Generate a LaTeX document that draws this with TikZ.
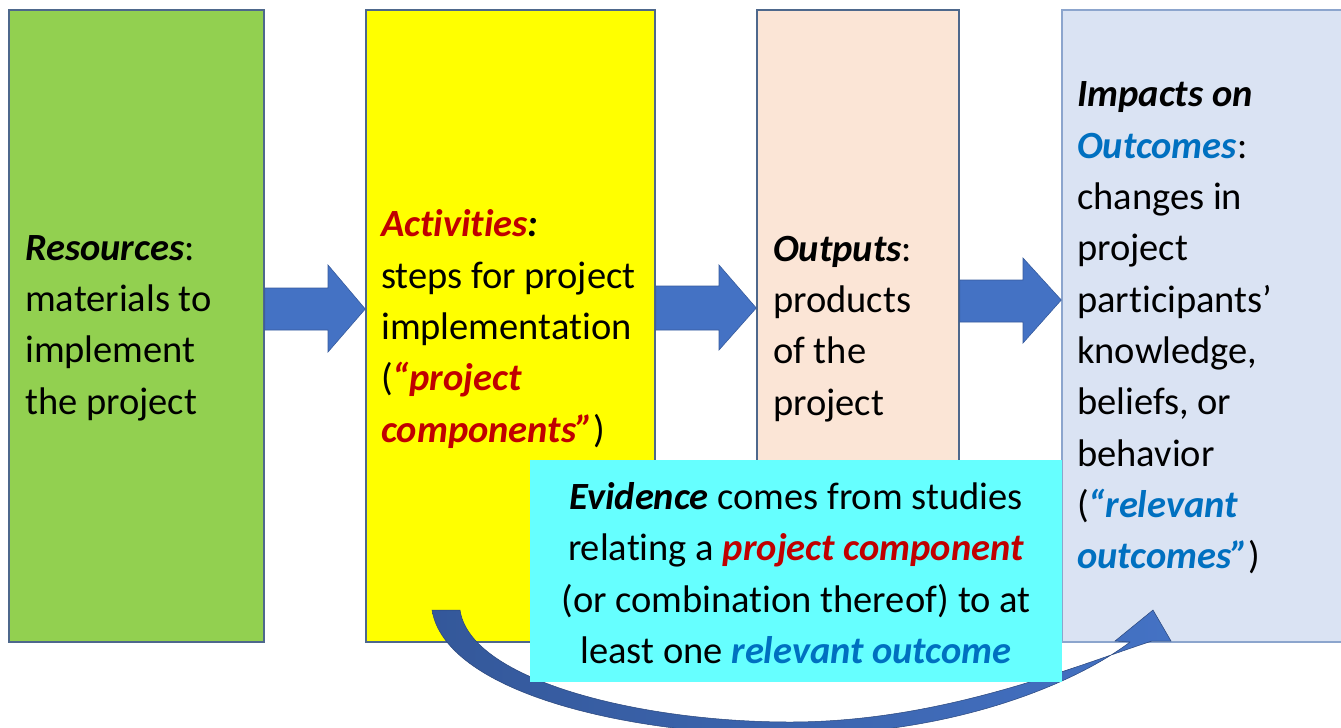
\documentclass[tikz,border=0pt]{standalone}
\usepackage{fontspec}
\setmainfont{Carlito}[Ligatures={NoCommon}]
\usetikzlibrary{calc}
\definecolor{grn}{HTML}{92D050}
\definecolor{yel}{HTML}{FFFF00}
\definecolor{peach}{HTML}{FBE5D6}
\definecolor{lblue}{HTML}{DAE3F3}
\definecolor{cyanbox}{HTML}{66FFFF}
\definecolor{arrblue}{HTML}{4472C4}
\definecolor{arrdark}{HTML}{34589A}
\definecolor{bord}{RGB}{78,104,140}
\definecolor{bordlight}{RGB}{140,165,205}
\definecolor{txtred}{HTML}{C00000}
\definecolor{txtblue}{HTML}{0070C0}
\newcommand{\bi}[1]{\textbf{\textit{#1}}}
\newcommand{\rbi}[1]{\textcolor{txtred}{\textbf{\textit{#1}}}}
\newcommand{\bbi}[1]{\textcolor{txtblue}{\textbf{\textit{#1}}}}
\begin{document}
\begin{tikzpicture}[x=1pt,y=-1pt,
  box/.style={draw=bord, line width=1.5pt, inner sep=0pt, minimum height=632pt},
  txt/.style={anchor=west, align=left, inner sep=0pt, font=\fontsize{38.5}{51.3}\selectfont},
  ctxt/.style={align=center, inner sep=0pt, font=\fontsize{38.5}{51.3}\selectfont},
  blockarrow/.style={fill=arrblue, draw=arrblue!80!black, line width=0.6pt}]
\clip (0,0) rectangle (1341,728);
\fill[white] (0,0) rectangle (1341,728);
% boxes
\node[box, fill=grn, minimum width=255pt] (res) at (136.5,326) {};
\node[box, fill=yel, minimum width=289pt] (act) at (510.5,326) {};
\node[box, fill=peach, minimum width=202pt] (out) at (858,326) {};
\node[box, fill=lblue, draw=bordlight, minimum width=290pt] (imp) at (1207,326) {};
% texts
\node[txt] (rest) at (25,328) {\bi{Resources}:\\materials to\\implement\\the project};
\node[txt] (actt) at (381,329) {\rbi{Activities}\bi{:}\\steps for project\\implementation\\(\rbi{“project}\\\rbi{components”})};
\node[txt] (outt) at (773,329) {\bi{Outputs}:\\products\\of the\\project};
\node[txt] (impt) at (1077,328) {\bi{Impacts on}\\\bbi{Outcomes}:\\changes in\\project\\participants’\\knowledge,\\beliefs, or\\behavior\\(\bbi{“relevant}\\\bbi{outcomes”})};
% block arrows
\path[blockarrow] (res.east |- 0,288) -- (328,288) -- (328,265) -- (act.west |- 0,309) -- (328,352) -- (328,330) -- (res.east |- 0,330) -- cycle;
\path[blockarrow] (act.east |- 0,286) -- (719,286) -- (719,265) -- (out.west |- 0,308) -- (719,350) -- (719,330) -- (act.east |- 0,330) -- cycle;
\path[blockarrow] (out.east |- 0,280) -- (1023,280) -- (1023,258) -- (imp.west |- 0,300) -- (1023,343) -- (1023,322) -- (out.east |- 0,322) -- cycle;
% curved arrow
\coordinate (cs1) at (432,610);
\coordinate (cs2) at (460,610);
\coordinate (ctip) at (1153,610);
\shade[left color=arrdark, right color=arrblue, draw=arrdark!80!black, line width=0.5pt]
  (cs1) .. controls (445,690) and (620,735) .. (790,735)
  .. controls (960,735) and (1080,680) .. (1130,642)
  -- (1115,641) -- (ctip) -- (1171,641) -- (1152,641)
  .. controls (1070,668) and (940,722) .. (790,722)
  .. controls (640,722) and (470,680) .. (cs2) -- cycle;
% evidence box
\node[fill=cyanbox, inner sep=0pt, minimum width=532pt, minimum height=222pt] (ev) at (796,571) {};
\node[ctxt] (evt) at (796,573) {\bi{Evidence} comes from studies\\relating a \rbi{project component}\\(or combination thereof) to at\\least one \bbi{relevant outcome}};
\end{tikzpicture}
\end{document}
